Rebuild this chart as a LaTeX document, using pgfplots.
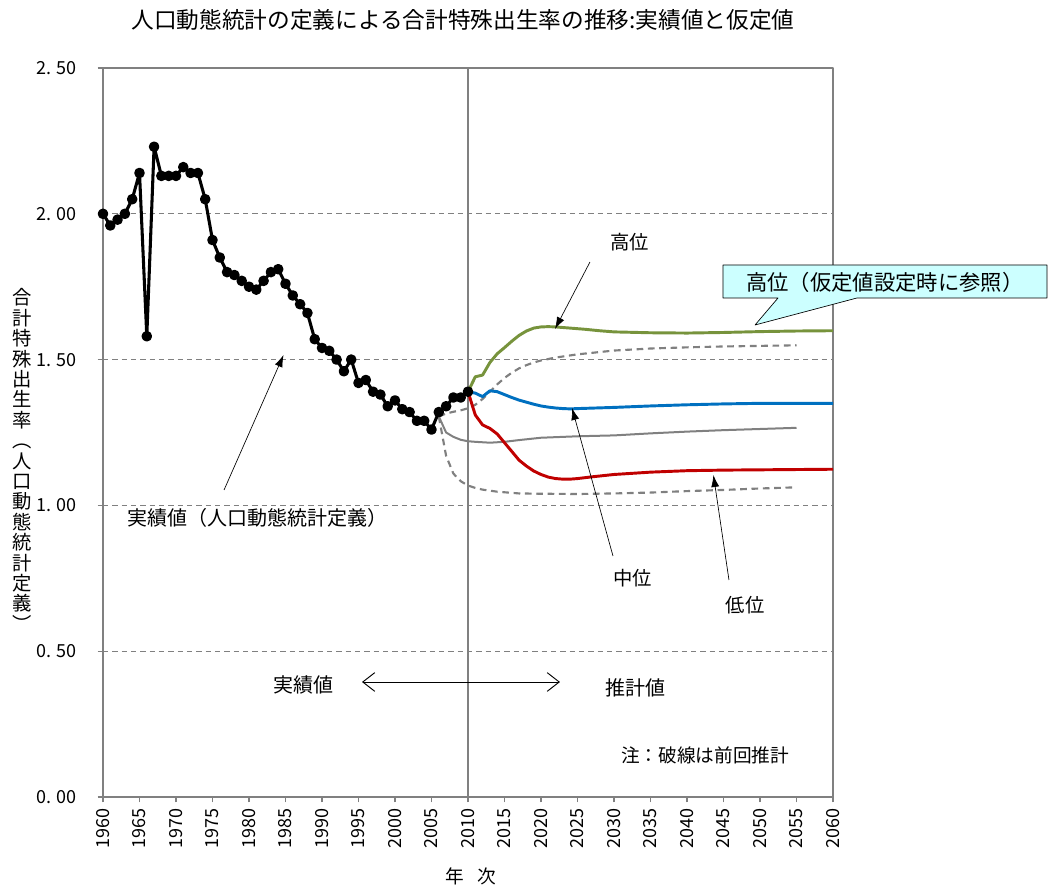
\documentclass[border=0pt]{standalone}
\usepackage{fontspec}
\setmainfont{Noto Sans CJK JP}
\usepackage{pgfplots}
\pgfplotsset{compat=1.18}
\usetikzlibrary{arrows.meta}
\definecolor{hgreen}{HTML}{77933C}
\definecolor{mblue}{HTML}{0070C0}
\definecolor{lred}{HTML}{C00000}
\definecolor{lgray}{HTML}{808080}
\definecolor{callout}{HTML}{CCFFFF}

\begin{document}
\begin{tikzpicture}[line join=round]
\begin{axis}[
  scale only axis, width=547.5pt, height=546.75pt,
  xmin=1960, xmax=2060, ymin=0, ymax=2.5,
  clip=false,
  axis line style={lgray, line width=0.9pt},
  tick style={lgray, line width=0.8pt},
  tick align=outside, major tick length=4pt,
  xtick={1960,1965,...,2060},
  ytick={0,0.5,1,1.5,2,2.5},
  yticklabels={\mbox{0.\hspace{0.3em}00},\mbox{0.\hspace{0.3em}50},\mbox{1.\hspace{0.3em}00},\mbox{1.\hspace{0.3em}50},\mbox{2.\hspace{0.3em}00},\mbox{2.\hspace{0.3em}50}},
  xticklabel style={rotate=90, anchor=east, font=\fontsize{13.5}{13.5}\selectfont, xshift=-1pt},
  yticklabel style={font=\fontsize{13.5}{13.5}\selectfont, xshift=-12pt},
  /pgf/number format/1000 sep={},
  /pgf/number format/assume math mode=true,
  xtick pos=bottom, ytick pos=left,
  every axis plot/.append style={line join=round},
]
% grid lines
\foreach \yy in {0.5,1,1.5,2}{
  \edef\temp{\noexpand\draw[lgray, line width=0.9pt, dash pattern=on 4pt off 3pt] (axis cs:1960,\yy) -- (axis cs:2060,\yy);}
  \temp
}
\draw[lgray, line width=0.9pt] (axis cs:2010,0) -- (axis cs:2010,2.5);

% previous projection (dashed high / low, solid medium)
\addplot[lgray, line width=1.6pt, dash pattern=on 5pt off 3.5pt, mark=none] coordinates {
(2006,1.305) (2007,1.315) (2008,1.321) (2009,1.326) (2010,1.333) (2011,1.345) (2012,1.365) (2013,1.39) (2014,1.415) (2015,1.437) (2016,1.455) (2017,1.47) (2018,1.481) (2019,1.49) (2020,1.497) (2022,1.507) (2025,1.518) (2030,1.531) (2035,1.538) (2040,1.542) (2045,1.545) (2050,1.547) (2055,1.549)};
\addplot[lgray, line width=1.6pt, dash pattern=on 5pt off 3.5pt, mark=none] coordinates {
(2006,1.305) (2007,1.17) (2008,1.109) (2009,1.083) (2010,1.068) (2011,1.06) (2012,1.054) (2014,1.047) (2017,1.041) (2020,1.040) (2025,1.039) (2030,1.041) (2035,1.044) (2040,1.049) (2045,1.053) (2050,1.058) (2055,1.062)};
\addplot[lgray, line width=1.5pt, mark=none] coordinates {
(2006,1.305) (2007,1.25) (2008,1.235) (2009,1.225) (2010,1.22) (2011,1.218) (2013,1.215) (2015,1.218) (2017,1.224) (2020,1.232) (2025,1.237) (2030,1.240) (2035,1.247) (2040,1.253) (2045,1.258) (2050,1.262) (2055,1.266)};

% current projection
\addplot[hgreen, line width=2.2pt, mark=none] coordinates {
(2010,1.39) (2011,1.441) (2012,1.447) (2013,1.49) (2014,1.52) (2015,1.541) (2016,1.563) (2017,1.583) (2018,1.598) (2019,1.608) (2020,1.612) (2021,1.613) (2022,1.612) (2023,1.610) (2024,1.608) (2026,1.604) (2028,1.599) (2030,1.595) (2035,1.592) (2040,1.591) (2045,1.593) (2050,1.596) (2055,1.598) (2060,1.599)};
\addplot[mblue, line width=2.2pt, mark=none] coordinates {
(2010,1.39) (2011,1.385) (2012,1.373) (2013,1.393) (2014,1.39) (2015,1.38) (2016,1.37) (2017,1.361) (2018,1.354) (2019,1.347) (2020,1.341) (2021,1.337) (2022,1.334) (2023,1.332) (2024,1.331) (2025,1.332) (2030,1.336) (2035,1.341) (2040,1.345) (2045,1.348) (2050,1.350) (2055,1.350) (2060,1.350)};
\addplot[lred, line width=2.2pt, mark=none] coordinates {
(2010,1.39) (2011,1.31) (2012,1.276) (2013,1.264) (2014,1.245) (2015,1.215) (2016,1.185) (2017,1.155) (2018,1.135) (2019,1.118) (2020,1.106) (2021,1.097) (2022,1.092) (2023,1.090) (2024,1.090) (2025,1.092) (2027,1.098) (2030,1.106) (2035,1.114) (2040,1.119) (2045,1.121) (2050,1.122) (2055,1.123) (2060,1.124)};

% actual values
\addplot[black, line width=2.3pt, mark=*, mark size=2.8pt] coordinates {
(1960,2.00) (1961,1.96) (1962,1.98) (1963,2.00) (1964,2.05) (1965,2.14) (1966,1.58) (1967,2.23) (1968,2.13) (1969,2.13) (1970,2.13) (1971,2.16) (1972,2.14) (1973,2.14) (1974,2.05) (1975,1.91) (1976,1.85) (1977,1.80) (1978,1.79) (1979,1.77) (1980,1.75) (1981,1.74) (1982,1.77) (1983,1.80) (1984,1.81) (1985,1.76) (1986,1.72) (1987,1.69) (1988,1.66) (1989,1.57) (1990,1.54) (1991,1.53) (1992,1.50) (1993,1.46) (1994,1.50) (1995,1.42) (1996,1.43) (1997,1.39) (1998,1.38) (1999,1.34) (2000,1.36) (2001,1.33) (2002,1.32) (2003,1.29) (2004,1.29) (2005,1.26) (2006,1.32) (2007,1.34) (2008,1.37) (2009,1.37) (2010,1.39)};

% annotations
\draw[black, line width=0.5pt, -{Latex[length=9pt,width=6pt]}] (axis cs:2026.71,1.8347) -- (axis cs:2021.92,1.6049);
\node[font=\fontsize{14.5}{14.5}\selectfont] at (axis cs:2032.19,1.9033) {高位};
\draw[black, line width=0.5pt, -{Latex[length=9pt,width=6pt]}] (axis cs:2029.86,0.8265) -- (axis cs:2024.25,1.3340);
\node[font=\fontsize{14.5}{14.5}\selectfont] at (axis cs:2032.60,0.7510) {中位};
\draw[black, line width=0.5pt, -{Latex[length=9pt,width=6pt]}] (axis cs:2045.75,0.7442) -- (axis cs:2043.62,1.1043);
\node[font=\fontsize{14.5}{14.5}\selectfont] at (axis cs:2047.95,0.6584) {低位};
\draw[black, line width=0.5pt, -{Latex[length=9pt,width=6pt]}] (axis cs:1976.58,1.0528) -- (axis cs:1984.73,1.5158);
\node[font=\fontsize{15}{15}\selectfont] at (axis cs:1981.16,0.9568) {実績値（人口動態統計定義）};
\node[font=\fontsize{15}{15}\selectfont] at (axis cs:1987.40,0.3841) {実績値};
\draw[black, line width=0.7pt, {Straight Barb[length=9pt,width=14pt]}-{Straight Barb[length=9pt,width=14pt]}] (axis cs:1995.48,0.3944) -- (axis cs:2022.60,0.3944);
\node[font=\fontsize{15}{15}\selectfont] at (axis cs:2032.88,0.3738) {推計値};
\node[font=\fontsize{14}{14}\selectfont] at (axis cs:2042.47,0.1440) {注：破線は前回推計};

% callout
\draw[black, line width=0.5pt, fill=callout] (axis cs:2044.93,1.8244) -- (axis cs:2089.32,1.8244) -- (axis cs:2089.32,1.7113) -- (axis cs:2063.29,1.7113) -- (axis cs:2049.32,1.6187) -- (axis cs:2052.47,1.7113) -- (axis cs:2044.93,1.7113) -- cycle;
\node[font=\fontsize{16}{16}\selectfont] at (axis cs:2067.12,1.7662) {高位（仮定値設定時に参照）};

% title and labels
\node[font=\fontsize{17}{17}\selectfont] at (axis cs:2009.32,2.6646) {人口動態統計の定義による合計特殊出生率の推移:実績値と仮定値};
\node[font=\fontsize{14}{14}\selectfont] at (axis cs:2010.41,-0.2709) {年\hspace{0.7em}次};
\node[font=\fontsize{14.5}{15.3}\selectfont, align=center, inner sep=0pt] at (axis cs:1948.90,1.1557) {合\\計\\特\\殊\\出\\生\\率\\︵\\人\\口\\動\\態\\統\\計\\定\\義\\︶};
\end{axis}
\pgfresetboundingbox
\path[use as bounding box] ([xshift=-77.25pt,yshift=-68.25pt]current axis.south west) rectangle ([xshift=710.25pt,yshift=597.75pt]current axis.south west);
\end{tikzpicture}
\end{document}
